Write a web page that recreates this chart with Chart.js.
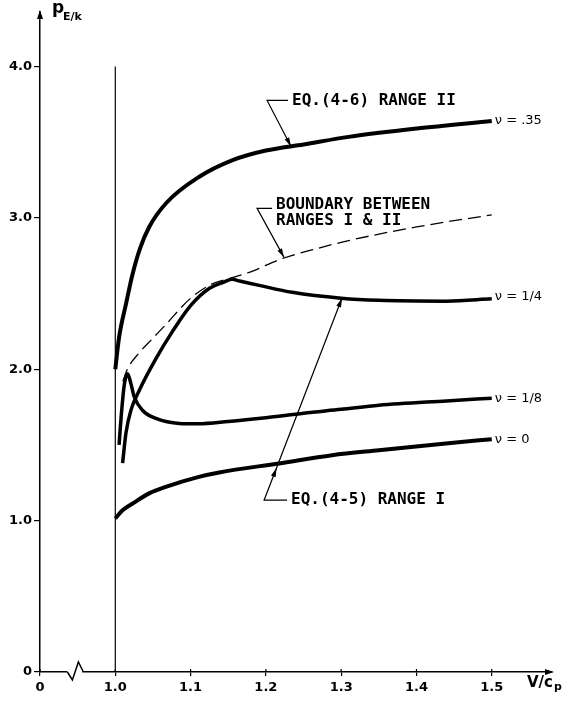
<!DOCTYPE html>
<html lang="en">
<head>
<meta charset="UTF-8">
<title>p E/k versus V/c p</title>
<script src="https://cdn.jsdelivr.net/npm/chart.js"></script>
<style>
  html, body { margin: 0; padding: 0; background: #fff; }
</style>
</head>
<body>
<canvas id="myChart" width="567" height="701"></canvas>
<script>
// axis is broken between 0 and 1.0, "0" is drawn one step left of 1.0
const xTickValues = [0.9, 1.0, 1.1, 1.2, 1.3, 1.4, 1.5];
const xTickLabels = ['0', '1.0', '1.1', '1.2', '1.3', '1.4', '1.5'];
const yTickValues = [0, 1, 2, 3, 4];
const yTickLabels = ['0', '1.0', '2.0', '3.0', '4.0'];
const breakAt = 0.947;

// nu = .35  (Eq. 4-6, range II)
const nu35X = [1.0, 1.005, 1.0146, 1.0225, 1.033, 1.045, 1.068, 1.111, 1.155, 1.2, 1.25, 1.31, 1.4, 1.5];
const nu35Y = [2.0, 2.21, 2.44, 2.62, 2.8, 2.94, 3.10, 3.27, 3.38, 3.445, 3.485, 3.535, 3.59, 3.64];

// boundary between ranges I & II
const boundX = [1.01, 1.016, 1.032, 1.049, 1.068, 1.098, 1.125, 1.155, 1.178, 1.221, 1.27, 1.31, 1.4, 1.5];
const boundY = [1.92, 2.0, 2.11, 2.2, 2.3, 2.46, 2.555, 2.605, 2.64, 2.73, 2.8, 2.85, 2.94, 3.02];

// nu = 1/4
const nu14X = [1.0097, 1.0142, 1.0208, 1.0318, 1.054, 1.076, 1.1, 1.125, 1.145, 1.155, 1.165, 1.191, 1.235, 1.3, 1.35, 1.44, 1.5];
const nu14Y = [1.38, 1.58, 1.73, 1.86, 2.07, 2.25, 2.42, 2.535, 2.577, 2.594, 2.583, 2.554, 2.508, 2.469, 2.455, 2.45, 2.465];

// nu = 1/8
const nu18X = [1.005, 1.008, 1.012, 1.0163, 1.021, 1.025, 1.036, 1.054, 1.085, 1.11, 1.15, 1.2, 1.25, 1.3, 1.35, 1.44, 1.5];
const nu18Y = [1.5, 1.7, 1.9, 1.97, 1.9, 1.82, 1.729, 1.675, 1.642, 1.64, 1.655, 1.68, 1.71, 1.735, 1.762, 1.791, 1.809];

// nu = 0  (Eq. 4-5, range I)
const nu0X = [1.0, 1.01, 1.023, 1.045, 1.067, 1.111, 1.138, 1.2175, 1.288, 1.35, 1.439, 1.5];
const nu0Y = [1.015, 1.07, 1.113, 1.18, 1.223, 1.289, 1.318, 1.378, 1.432, 1.465, 1.51, 1.538];

// vertical line at V/c_p = 1
const lineX = [1.0, 1.0];
const lineY = [0, 4.0];

const curveLabels = ['\u03bd = .35', '\u03bd = 1/4', '\u03bd = 1/8', '\u03bd = 0'];

function pts(xs, ys) {
    return xs.map((v, i) => ({ x: v, y: ys[i] }));
}

function arrowHead(ctx, x, y, ang, len, half) {
    const c = Math.cos(ang), s = Math.sin(ang);
    ctx.beginPath();
    ctx.moveTo(x, y);
    ctx.lineTo(x - len * c + half * s, y - len * s - half * c);
    ctx.lineTo(x - len * c - half * s, y - len * s + half * c);
    ctx.closePath();
    ctx.fill();
}

// leader notes, positions in data units
const notes = [
    { lines: ['EQ.(4-6) RANGE II'], text: [1.2347, 3.776], corner: [1.2016, 3.776], tip: [1.2334, 3.472], heads: [1] },
    { lines: ['BOUNDARY BETWEEN', 'RANGES I & II'], text: [1.2135, 3.089], corner: [1.1883, 3.063], tip: [1.2241, 2.739], heads: [1] },
    { lines: ['EQ.(4-5) RANGE I'], text: [1.2334, 1.135], corner: [1.1976, 1.135], tip: [1.301, 2.469], heads: [0.16, 1] }
];

const decor = {
    id: 'decor',
    afterDraw(chart) {
        const { ctx, chartArea: a, scales: { x, y } } = chart;
        ctx.save();
        ctx.fillStyle = '#000';
        ctx.strokeStyle = '#000';

        // axis arrows
        arrowHead(ctx, a.left, a.top - 2, -Math.PI / 2, 9, 3);
        arrowHead(ctx, a.right + 2, a.bottom, 0, 9, 3);

        // small tick marks above the x axis too
        ctx.lineWidth = 1.2;
        xTickValues.forEach(v => {
            const px = x.getPixelForValue(v);
            ctx.beginPath();
            ctx.moveTo(px, a.bottom);
            ctx.lineTo(px, a.bottom - 3);
            ctx.stroke();
        });

        // break in the x axis
        const bx = x.getPixelForValue(breakAt);
        ctx.fillStyle = '#fff';
        ctx.fillRect(bx - 8, a.bottom - 2, 15, 4);
        ctx.fillStyle = '#000';
        ctx.lineWidth = 1.5;
        ctx.beginPath();
        ctx.moveTo(bx - 8, a.bottom);
        ctx.lineTo(bx - 3, a.bottom + 8);
        ctx.lineTo(bx + 3, a.bottom - 10);
        ctx.lineTo(bx + 8, a.bottom);
        ctx.stroke();

        // axis titles
        ctx.textBaseline = 'alphabetic';
        ctx.textAlign = 'left';
        ctx.font = 'bold 15px "DejaVu Sans"';
        ctx.fillText('V/c', a.right - 25, a.bottom + 15);
        const w = ctx.measureText('V/c').width;
        ctx.font = 'bold 11px "DejaVu Sans"';
        ctx.fillText('p', a.right - 25 + w + 1, a.bottom + 18);

        ctx.font = 'bold 17px "DejaVu Sans"';
        ctx.fillText('p', a.left + 12, a.top + 1);
        ctx.font = 'bold 11px "DejaVu Sans"';
        ctx.fillText('E/k', a.left + 23, a.top + 8);

        // curve labels at the right end of each curve
        ctx.font = '13px "DejaVu Sans"';
        ctx.textBaseline = 'middle';
        const ends = [[nu35X, nu35Y], [nu14X, nu14Y], [nu18X, nu18Y], [nu0X, nu0Y]];
        ends.forEach((e, i) => {
            const xs = e[0], ys = e[1];
            const px = x.getPixelForValue(xs[xs.length - 1]) + 3;
            const py = y.getPixelForValue(ys[ys.length - 1]) - (i === 1 ? 2 : 0);
            ctx.fillText(curveLabels[i], px, py);
        });

        // leader notes
        ctx.font = 'bold 16px "DejaVu Sans Mono"';
        ctx.lineWidth = 1.2;
        notes.forEach(n => {
            const tx = x.getPixelForValue(n.text[0]);
            const ty = y.getPixelForValue(n.text[1]);
            n.lines.forEach((t, k) => ctx.fillText(t, tx, ty + k * 16.5));
            const cx = x.getPixelForValue(n.corner[0]);
            const cy = y.getPixelForValue(n.corner[1]);
            const ex = x.getPixelForValue(n.tip[0]);
            const ey = y.getPixelForValue(n.tip[1]);
            ctx.beginPath();
            ctx.moveTo(tx - 4, cy);
            ctx.lineTo(cx, cy);
            ctx.lineTo(ex, ey);
            ctx.stroke();
            const ang = Math.atan2(ey - cy, ex - cx);
            n.heads.forEach(t => {
                arrowHead(ctx, cx + (ex - cx) * t, cy + (ey - cy) * t, ang, 9, 2.5);
            });
        });
        ctx.restore();
    }
};

const tickFont = { family: '"DejaVu Sans"', size: 13, weight: 'bold' };

new Chart(document.getElementById('myChart').getContext('2d'), {
    type: 'line',
    data: {
        datasets: [
            { data: pts(lineX, lineY), borderColor: '#000', borderWidth: 1.2 },
            { data: pts(nu35X, nu35Y), borderColor: '#000', borderWidth: 4, cubicInterpolationMode: 'monotone' },
            { data: pts(boundX, boundY), borderColor: '#000', borderWidth: 1.3, borderDash: [13, 6], cubicInterpolationMode: 'monotone' },
            { data: pts(nu14X, nu14Y), borderColor: '#000', borderWidth: 3.5, cubicInterpolationMode: 'monotone' },
            { data: pts(nu18X, nu18Y), borderColor: '#000', borderWidth: 3.5, cubicInterpolationMode: 'monotone' },
            { data: pts(nu0X, nu0Y), borderColor: '#000', borderWidth: 4, cubicInterpolationMode: 'monotone' }
        ]
    },
    options: {
        responsive: false,
        animation: false,
        layout: { padding: { top: 12, right: 15, left: 0, bottom: 0 } },
        elements: { point: { radius: 0 } },
        plugins: { legend: { display: false }, tooltip: { enabled: false } },
        scales: {
            x: {
                type: 'linear',
                min: 0.9,
                max: 1.58,
                afterBuildTicks: s => { s.ticks = xTickValues.map(v => ({ value: v })); },
                afterFit: s => { s.height = 29; },
                ticks: { callback: (v, i) => xTickLabels[i], font: tickFont, color: '#000', padding: 4, maxRotation: 0, autoSkip: false },
                grid: { drawOnChartArea: false, drawTicks: true, tickLength: 4, color: '#000', lineWidth: 1.2 },
                border: { display: true, color: '#000', width: 1.5 }
            },
            y: {
                min: 0,
                max: 4.36,
                afterBuildTicks: s => { s.ticks = yTickValues.map(v => ({ value: v })); },
                afterFit: s => { s.width = 40; },
                ticks: { callback: (v, i) => yTickLabels[i], font: tickFont, color: '#000', padding: 2 },
                grid: { drawOnChartArea: false, drawTicks: true, tickLength: 6, color: '#000', lineWidth: 1.2 },
                border: { display: true, color: '#000', width: 1.5 }
            }
        }
    },
    plugins: [decor]
});
</script>
</body>
</html>
